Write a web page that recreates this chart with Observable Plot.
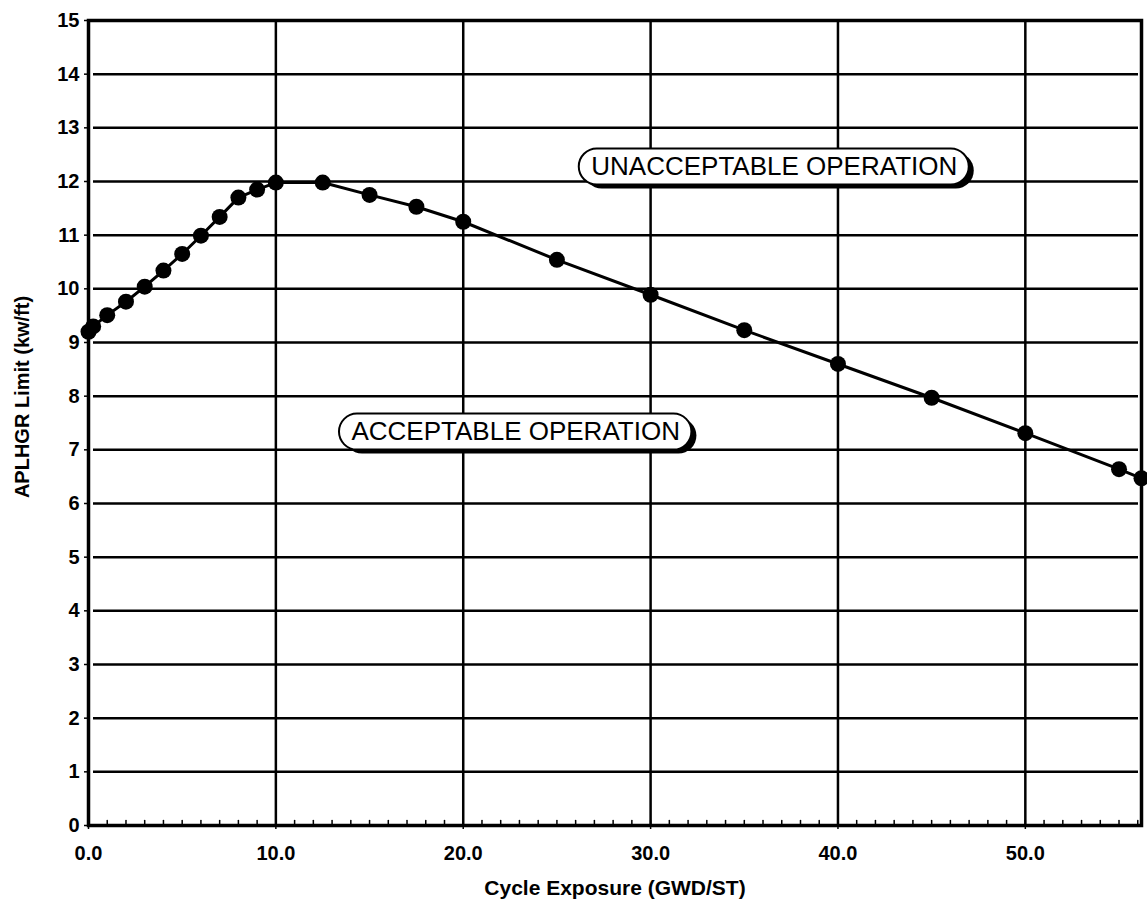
<!DOCTYPE html>
<html><head><meta charset="utf-8">
<script src="https://cdn.jsdelivr.net/npm/d3@7"></script>
<script src="https://cdn.jsdelivr.net/npm/@observablehq/plot@0.6"></script>
<style>body{margin:0;background:#fff}</style>
</head><body><div id="chart"></div>
<script>
const exposure = [0, 0.25, 1, 2, 3, 4, 5, 6, 7, 8, 9, 10, 12.5, 15, 17.5, 20, 25, 30, 35, 40, 45, 50, 55, 56.2];
const aplhgr = [9.2, 9.3, 9.51, 9.76, 10.04, 10.34, 10.65, 10.99, 11.34, 11.7, 11.85, 11.98, 11.98, 11.75, 11.53, 11.25, 10.54, 9.89, 9.23, 8.6, 7.97, 7.31, 6.64, 6.47];
const xTicks = [0, 10, 20, 30, 40, 50];
const yTicks = [0, 1, 2, 3, 4, 5, 6, 7, 8, 9, 10, 11, 12, 13, 14, 15];
const xMinor = [0,1,2,3,4,5,6,7,8,9,10,11,12,13,14,15,16,17,18,19,20,21,22,23,24,25,26,27,28,29,30,31,32,33,34,35,36,37,38,39,40,41,42,43,44,45,46,47,48,49,50,51,52,53,54,55,56];
const regionLabels = ["UNACCEPTABLE OPERATION", "ACCEPTABLE OPERATION"];
const regionX = [36.6, 22.8];
const regionY = [12.27, 7.33];
const xTitle = "Cycle Exposure (GWD/ST)";
const yTitle = "APLHGR Limit (kw/ft)";

const table = exposure.map((x, i) => ({x, y: aplhgr[i]}));
const FONT = "'Liberation Sans', Arial, Helvetica, sans-serif";

function boxedLabel(index, scales, values, dims, context, next) {
  const g = next(index, scales, values, dims, context);
  const ctx = document.createElement("canvas").getContext("2d");
  ctx.font = "26px 'Liberation Sans', Arial, sans-serif";
  const wrap = d3.create("svg:g");
  for (const i of index) {
    const cx = values.x[i], cy = values.y[i];
    const w = ctx.measureText(regionLabels[i]).width + 24, h = 36;
    wrap.append("rect").attr("x", cx - w / 2 + 5).attr("y", cy - h / 2 + 4)
      .attr("width", w).attr("height", h).attr("rx", h / 2).attr("fill", "black");
    wrap.append("rect").attr("x", cx - w / 2).attr("y", cy - h / 2)
      .attr("width", w).attr("height", h).attr("rx", h / 2)
      .attr("fill", "white").attr("stroke", "black").attr("stroke-width", 2);
  }
  wrap.append(() => g);
  return wrap.node();
}

const chart = Plot.plot({
  width: 1147,
  height: 905,
  marginLeft: 88,
  marginRight: 6,
  marginTop: 20,
  marginBottom: 80,
  style: {fontFamily: FONT, fontSize: "20px", fontWeight: "bold", color: "black", background: "white"},
  x: {domain: [0, 56.2]},
  y: {domain: [0, 15]},
  marks: [
    Plot.ruleY(yTicks, {stroke: "black", strokeWidth: 2.5, insetLeft: 5, insetRight: 3}),
    Plot.ruleX(xTicks, {stroke: "black", strokeWidth: 2.5}),
    Plot.vectorX(xMinor, {x: d => d, frameAnchor: "bottom", length: 5, rotate: 0, anchor: "start",
      stroke: "black", strokeWidth: 1.5,
      shape: {draw(c, l) { c.moveTo(0, 0); c.lineTo(0, -l); }}}),
    Plot.frame({stroke: "black", strokeWidth: 3.5}),
    Plot.axisX({ticks: xTicks, tickFormat: d => d.toFixed(1), tickSize: 4, tickPadding: 16, label: null, strokeWidth: 1.5}),
    Plot.axisY({ticks: yTicks, tickFormat: d => String(d), tickSize: 4, tickPadding: 5, label: null, strokeWidth: 1.5}),
    Plot.text([xTitle], {frameAnchor: "bottom", dy: 63, lineAnchor: "middle", textAnchor: "middle", fontSize: 21, fontWeight: "bold", fill: "black"}),
    Plot.text([yTitle], {frameAnchor: "left", dx: -66, dy: -26, rotate: -90, lineAnchor: "middle", textAnchor: "middle", fontSize: 20, fontWeight: "bold", fill: "black"}),
    Plot.line(table, {x: "x", y: "y", stroke: "black", strokeWidth: 3}),
    Plot.dot(table, {x: "x", y: "y", r: 8, fill: "black", stroke: "none"}),
    Plot.text(regionLabels, {x: (d, i) => regionX[i], y: (d, i) => regionY[i], text: d => d,
      fontSize: 26, fontWeight: "normal", fill: "black", render: boxedLabel})
  ]
});
document.getElementById("chart").append(chart);
</script>
</body></html>
